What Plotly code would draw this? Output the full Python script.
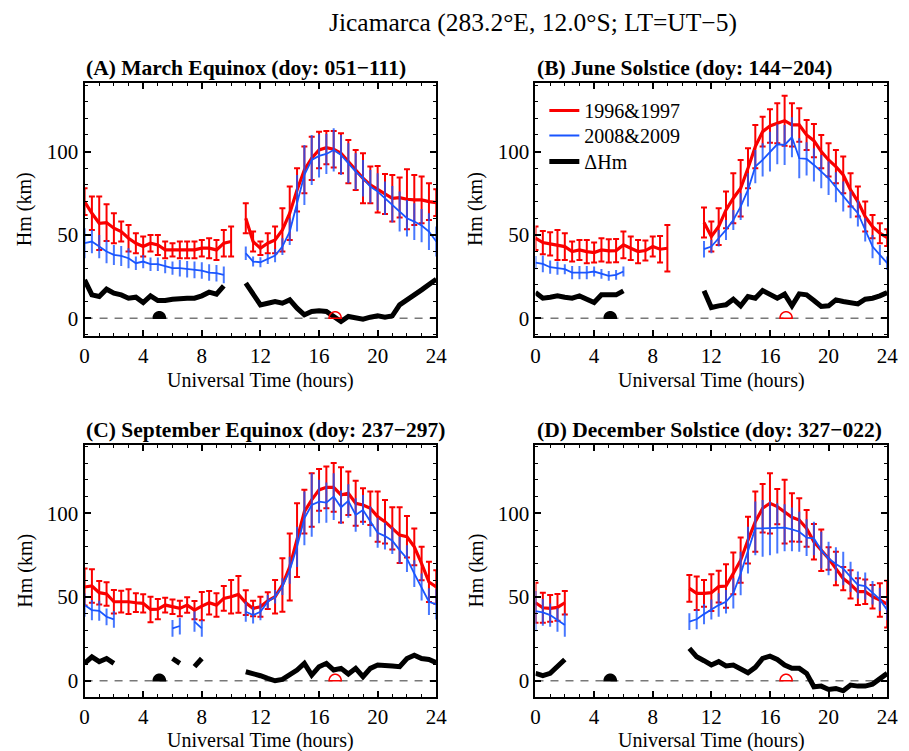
import math
import plotly.graph_objects as go

# ---------------- data ----------------
UT = [0, 0.5, 1, 1.5, 2, 2.5, 3, 3.5, 4, 4.5, 5, 5.5, 6, 6.5, 7, 7.5, 8, 8.5, 9, 9.5,
      10, 10.5, 11, 11.5, 12, 12.5, 13, 13.5, 14, 14.5, 15, 15.5, 16, 16.5, 17, 17.5,
      18, 18.5, 19, 19.5, 20, 20.5, 21, 21.5, 22, 22.5, 23, 23.5, 24]
N = None

# (A) March Equinox
A_red = [70, 63, 57, 57.4, 54, 52, 48, 45, 43, 45, 44, 41, 41, 41, 41, 41, 42, 42, 41, 45, 46,
         N,
         60, 46, 42, 45, 47, 53, 63, 77, 89, 96, 101, 102.4, 101.4, 99, 94, 89, 84, 80, 77.4,
         74.6, 72, 72.4, 71.4, 71, 71, 70, 69.4]
A_red_err = [8, 10, 16, 11, 9, 6, 8, 6, 6, 5, 6, 5, 4, 5, 5, 5, 5, 6, 6, 8, 9,
             N,
             9, 6, 4, 6, 8, 13, 16, 13, 14, 13, 11, 10, 11, 12, 13, 12, 15, 11, 14, 12, 14, 12,
             18, 15, 14, 11, 8]
A_blue = [45, 46, 43, 40, 38, 37.4, 36, 33, 34, 32.4, 32.4, 31, 30, 30, 29.4, 29, 28.6, 27.4, 27, 26,
          N, N,
          39, 34, 33.6, 35.6, 37.6, 43, 52, 69, 86, 95, 97.4, 98.6, 101, 98, 93, 88, 84, 79, 76,
          72, 68.4, 64, 60, 58, 55.6, 52, 46]
A_blue_err = [9, 7, 7, 7, 6, 6, 6, 4, 4, 4, 4, 4, 4, 5, 5, 5, 5, 5, 5, 5,
              N, N,
              4, 3, 3, 3, 4, 5, 8, 17, 18, 15, 13, 12, 13, 12, 12, 11, 11, 10, 11, 10, 11, 12,
              11, 11, 10, 11, 9]
A_dhm = [23, 14, 13, 17.4, 15, 14, 12, 12.6, 9.4, 13.4, 10.6, 10.6, 11.4, 12, 12, 12, 13.4, 15.6, 14.4, 19.4,
         N, N,
         21, 14, 8, 9, 10, 9, 11, 6, 2, 4, 4.4, 4, 1, -2, 1, 0.4, -0.6, 0.6, 1.4, 0.6, 1.4, 8,
         11.4, 14, 17, 20, 23.4]

# (B) June Solstice
B_red = [48, 45.4, 44.6, 44, 43, 40, 41, 40, 39.4, 41, 40.4, 40.6, 44, 42, 40, 40.6, 43, 41.4, 42,
         N, N, N, N,
         57.4, 49, 55, 65, 72, 78, 90, 103, 112, 115.4, 117, 118.6, 116, 116, 110, 106.6, 100,
         95, 91, 86, 77, 70, 61, 55, 51, 48.4]
B_red_err = [7, 7, 7, 9, 8, 6, 6, 7, 6, 7, 7, 7, 8, 7, 7, 6, 6, 8, 14,
             N, N, N, N,
             9, 9, 11, 11, 15, 17, 12, 13, 9, 10, 12, 15, 13, 10, 9, 10, 10, 10, 10, 11, 10, 9,
             9, 7, 6, 5]
B_blue = [33.4, 32.6, 30.6, 30, 29.4, 27.4, 27.4, 27.4, 28, 26.6, 25.4, 26, 28,
          N, N, N, N, N, N, N, N, N, N,
          41.4, 43, 48, 53, 59, 67, 77, 91, 95, 100, 104.4, 104, 108.6, 96, 95.6, 92, 88, 84,
          78.6, 73, 68, 63, 53, 43, 38, 33]
B_blue_err = [4, 5, 4, 4, 3, 4, 4, 4, 3, 3, 3, 3, 3,
              N, N, N, N, N, N, N, N, N, N,
              5, 4, 5, 6, 6, 8, 10, 10, 10, 12, 12, 12, 12, 12, 10, 10, 10, 10, 9, 9, 8, 8, 7,
              7, 6, 4]
B_dhm = [15.4, 12, 12.6, 13.4, 12.6, 12, 13.4, 11.4, 9.4, 14, 14, 14, 16.4,
         N, N, N, N, N, N, N, N, N, N,
         16.4, 6.4, 7.4, 8, 11.4, 7.4, 13, 12, 16.6, 14, 12, 14.4, 7.4, 14.6, 14, 10.6, 7, 7.4,
         11, 10, 9.4, 8.6, 11.4, 12, 13.4, 15.4]

# (C) September Equinox
C_red = [56, 56.6, 52.6, 51.8, 47.2, 47.2, 47.2, 46.6, 46.2, 42.6, 42.8, 45.2, 44.2, 43.2, 45.2,
         42.2, 44.6, 46.6, 45.2, 49.2, 50.2, 51.6, 46.6, 43.2, 44.2, 47.8, 50.2, 57.2, 68, 84,
         101, 108, 114, 115.5, 115.5, 111, 112, 106, 105, 103, 98, 95, 91, 87, 86, 80, 70, 59, 56]
C_red_err = [11, 10, 7, 7, 7, 6.5, 7.4, 5.6, 5.4, 7.6, 6, 4.4, 4.4, 4.6, 4.6, 5.4, 8.4, 7, 7,
             7.4, 10, 11, 7.4, 4.6, 6, 5, 10, 16, 20, 22, 13, 16, 12.5, 12.5, 14.5, 16.5, 13,
             13.5, 10, 10, 15, 13, 12.6, 16.6, 12.4, 11, 10, 12, 10]
C_blue = [45.2, 42.2, 41.8, 38.2, 36.6,
          N, N, N, N, N, N, N,
          31.3, 32.7, N, 35.3, 31.3,
          N, N, N, N, N,
          41.2, 39.2, 41.2, 47.2, 50.2, 56.2, 66, 80, 97, 105, 107, 106.4, 110, 103.6, 107.4,
          99, 102, 95, 88.4, 86.4, 83.7, 78, 73, 64, 56, 47.2, 45.6]
C_blue_err = [7, 6, 6, 5, 5,
              N, N, N, N, N, N, N,
              5, 5, N, 6, 5,
              N, N, N, N, N,
              6, 5, 5, 4, 4, 5, 8, 12, 16, 19, 13, 12, 14, 10, 10, 10, 9, 9, 9, 8, 8, 8, 8, 8,
              8, 8, 9]
C_dhm = [10.4, 14.3, 11.4, 13.3, 10.4,
         N, N, N, N, N, N, N,
         13.3, 10.4, N, 8.4, 13.3,
         N, N, N, N, N,
         5.4, 4.4, 3, 1.4, 0, 0.8, 3.4, 6.4, 10.4, 3.4, 8.4, 10.4, 6.4, 7.4, 4, 7.4, 2.4, 7.4,
         9.4, 9.4, 8.8, 8.4, 13.3, 15.3, 13.3, 12.7, 10.8]

# (D) December Solstice
D_red = [46.6, 43.6, 43.2, 43.8, 46.6,
         N, N, N, N, N, N, N, N, N, N, N, N, N, N, N, N,
         55.2, 52.2, 52.2, 52.6, 56.2, 56.6, 64.1, 72, 84, 95, 103, 106, 104, 101, 97.6, 96, 91,
         83, 78, 73, 67, 61, 57.6, 53.2, 53.2, 50.2, 48.2, 45.8]
D_red_err = [12, 9, 8, 8, 7,
             N, N, N, N, N, N, N, N, N, N, N, N, N, N, N, N,
             8, 10, 8, 11, 9.5, 13, 12.5, 13.5, 14, 18, 14.5, 18, 10.5, 19, 14.4, 13, 11, 10.6,
             12.4, 6.7, 10, 7, 8.4, 8, 7.3, 7, 10, 14]
D_blue = [41.6, 40.8, 39.2, 36.3, 33.3,
          N, N, N, N, N, N, N, N, N, N, N, N, N, N, N, N,
          35.3, 36.7, 39.8, 42.6, 45.2, 47.2, 52.2, 64, 78, 91, 91, 91, 91, 91.4, 90.4, 89, 85.5,
          85, 78, 73, 69.7, 67, 62, 57.2, 56.6, 52.6, 48.6, 42.2]
D_blue_err = [12, 8, 7, 7, 7,
              N, N, N, N, N, N, N, N, N, N, N, N, N, N, N, N,
              5, 6, 6, 6, 7, 7, 9, 13, 14, 16, 17, 16, 15, 14, 13, 12, 11, 10, 11, 10, 10, 10, 9,
              8, 8, 7, 7, 6]
D_dhm = [4.4, 3, 4.4, 8.4, 12.7,
         N, N, N, N, N, N, N, N, N, N, N, N, N, N, N, N,
         19.3, 14.3, 12, 9.4, 11.4, 8.8, 9.4, 6.8, 4.8, 8, 13.3, 14.7, 12.7, 9.4, 7.4, 7.4, 4.4,
         -3.6, -3.2, -5.2, -4.6, -6, -2.6, -3.2, -3.2, -2, 0.8, 4.4]

PANEL_TITLES = ["(A) March Equinox (doy: 051\u2212111)",
                "(B) June Solstice (doy: 144\u2212204)",
                "(C) September Equinox (doy: 237\u2212297)",
                "(D) December Solstice (doy: 327\u2212022)"]
SUNRISE_UT = [5.1, 5.1, 5.1, 5.1]
SUNSET_UT = [17.1, 17.1, 17.1, 17.1]
SERIES_NAMES = ["1996&1997", "2008&2009", "\u0394Hm"]
MAIN_TITLE = "Jicamarca (283.2\u00b0E, 12.0\u00b0S; LT=UT\u22125)"
X_TITLE = "Universal Time (hours)"
Y_TITLE = "Hm (km)"

# ---------------- style ----------------
W, H = 909, 751
FONT = "Liberation Serif, Times New Roman, serif"
RED = "rgb(250,0,0)"
BLUE = "rgb(25,85,255)"
BLUE_BAR = "rgba(25,85,255,0.8)"

XDOM = [[81 / W, 439 / W], [540 / W, 898 / W]]
YDOM = [[1 - 336 / H, 1 - 83 / H], [1 - 697 / H, 1 - 445 / H]]
YRANGE = [[-10.7, 141.2], [-9.7, 140.8]]
LEGEND_IDS = ["legend", "legend2", "legend3"]
LEGEND_TOP_PX = [91, 116, 142]

panels = [
    (A_red, A_red_err, A_blue, A_blue_err, A_dhm),
    (B_red, B_red_err, B_blue, B_blue_err, B_dhm),
    (C_red, C_red_err, C_blue, C_blue_err, C_dhm),
    (D_red, D_red_err, D_blue, D_blue_err, D_dhm),
]

fig = go.Figure()
shapes = []
annotations = []
layout_axes = {}

for i, (red, red_err, blue, blue_err, dhm) in enumerate(panels):
    row, col = divmod(i, 2)
    sfx = "" if i == 0 else str(i + 1)
    xa, ya = "x" + sfx, "y" + sfx
    fig.add_trace(go.Scatter(
        x=UT, y=red, mode="lines", name=SERIES_NAMES[0], legend=LEGEND_IDS[0],
        line=dict(color=RED, width=3.2), connectgaps=False, showlegend=(i == 0),
        error_y=dict(type="data", array=red_err, visible=True, color=RED, thickness=2, width=3),
        xaxis=xa, yaxis=ya))
    fig.add_trace(go.Scatter(
        x=UT, y=blue, mode="lines", name=SERIES_NAMES[1], legend=LEGEND_IDS[1],
        line=dict(color=BLUE, width=1.8), connectgaps=False, showlegend=(i == 0),
        error_y=dict(type="data", array=blue_err, visible=True, color=BLUE_BAR, thickness=2, width=0),
        xaxis=xa, yaxis=ya))
    fig.add_trace(go.Scatter(
        x=UT, y=dhm, mode="lines", name=SERIES_NAMES[2], legend=LEGEND_IDS[2],
        line=dict(color="black", width=5), connectgaps=False, showlegend=(i == 0),
        xaxis=xa, yaxis=ya))

    common = dict(showline=True, linecolor="black", linewidth=2, mirror="allticks",
                  ticks="inside", tickwidth=1.5, tickcolor="black", showgrid=False,
                  zeroline=False, fixedrange=True,
                  tickfont=dict(family=FONT, size=21, color="black"))
    layout_axes["xaxis" + sfx] = dict(
        common, domain=XDOM[col], range=[0, 24], tick0=0, dtick=4, ticklen=6,
        anchor=ya, minor=dict(ticks="inside", dtick=1, ticklen=3, tickwidth=1, tickcolor="black"))
    layout_axes["yaxis" + sfx] = dict(
        common, domain=YDOM[row], range=YRANGE[row], tick0=0, dtick=50, ticklen=6,
        anchor=xa, minor=dict(ticks="inside", dtick=10, ticklen=3, tickwidth=1, tickcolor="black"))

    # zero reference line
    shapes.append(dict(type="line", xref=xa, yref=ya, x0=UT[0], x1=UT[-1], y0=0, y1=0,
                       line=dict(color="rgb(120,120,120)", width=1.5, dash="8px,7px"),
                       layer="below"))
    # sunrise / sunset half-disks (size in pixels converted to data units)
    yr = YRANGE[row]
    px_per_h = (XDOM[col][1] - XDOM[col][0]) * W / 24.0
    px_per_km = (YDOM[row][1] - YDOM[row][0]) * H / (yr[1] - yr[0])
    rx, ry = 6.2 / px_per_h, 6.5 / px_per_km
    for xc, fill, lc in [(SUNRISE_UT[i], "black", "black"), (SUNSET_UT[i], "rgba(0,0,0,0)", RED)]:
        pts = []
        for k in range(25):
            t = math.pi * k / 24
            pts.append((xc + rx * math.cos(t), ry * math.sin(t)))
        path = "M " + " L ".join(f"{px:.4f},{py:.4f}" for px, py in pts) + " Z"
        shapes.append(dict(type="path", xref=xa, yref=ya, path=path, fillcolor=fill,
                           line=dict(color=lc, width=1.5), layer="above"))

    x_left = XDOM[col][0]
    x_mid = (XDOM[col][0] + XDOM[col][1]) / 2
    y_top = 68 if row == 0 else 430
    annotations.append(dict(text="<b>" + PANEL_TITLES[i] + "</b>", xref="paper", yref="paper",
                            x=x_left - 1 / W, y=1 - y_top / H, xanchor="left", yanchor="middle",
                            showarrow=False, font=dict(family=FONT, size=21.5, color="black")))
    y_xt = 380 if row == 0 else 740
    annotations.append(dict(text=X_TITLE, xref="paper", yref="paper", x=x_mid, y=1 - y_xt / H,
                            xanchor="center", yanchor="middle", showarrow=False,
                            font=dict(family=FONT, size=20, color="black")))
    x_yt = 20 if col == 0 else 479
    annotations.append(dict(text=Y_TITLE, xref="paper", yref="paper", x=x_yt / W,
                            y=(YDOM[row][0] + YDOM[row][1]) / 2, textangle=-90,
                            xanchor="center", yanchor="middle", showarrow=False,
                            font=dict(family=FONT, size=20, color="black")))

annotations.append(dict(text=MAIN_TITLE, xref="paper", yref="paper", x=537 / W, y=1 - 22 / H,
                        xanchor="center", yanchor="middle", showarrow=False,
                        font=dict(family=FONT, size=25.5, color="black")))

legends = {}
for lid, top in zip(LEGEND_IDS, LEGEND_TOP_PX):
    legends[lid] = dict(x=549 / W, y=1 - top / H, xanchor="left", yanchor="top",
                        bgcolor="rgba(0,0,0,0)", font=dict(family=FONT, size=20, color="black"),
                        itemwidth=30)

fig.update_layout(
    width=W, height=H, margin=dict(l=0, r=0, t=0, b=0),
    paper_bgcolor="white", plot_bgcolor="white",
    font=dict(family=FONT, color="black"),
    shapes=shapes, annotations=annotations,
    **legends,
    **layout_axes,
)

fig.write_html(
    "out.html",
    config={"responsive": False, "displayModeBar": False},
    post_script="document.body.style.margin='0';document.body.style.padding='0';"
                "document.documentElement.style.overflow='hidden';",
)
